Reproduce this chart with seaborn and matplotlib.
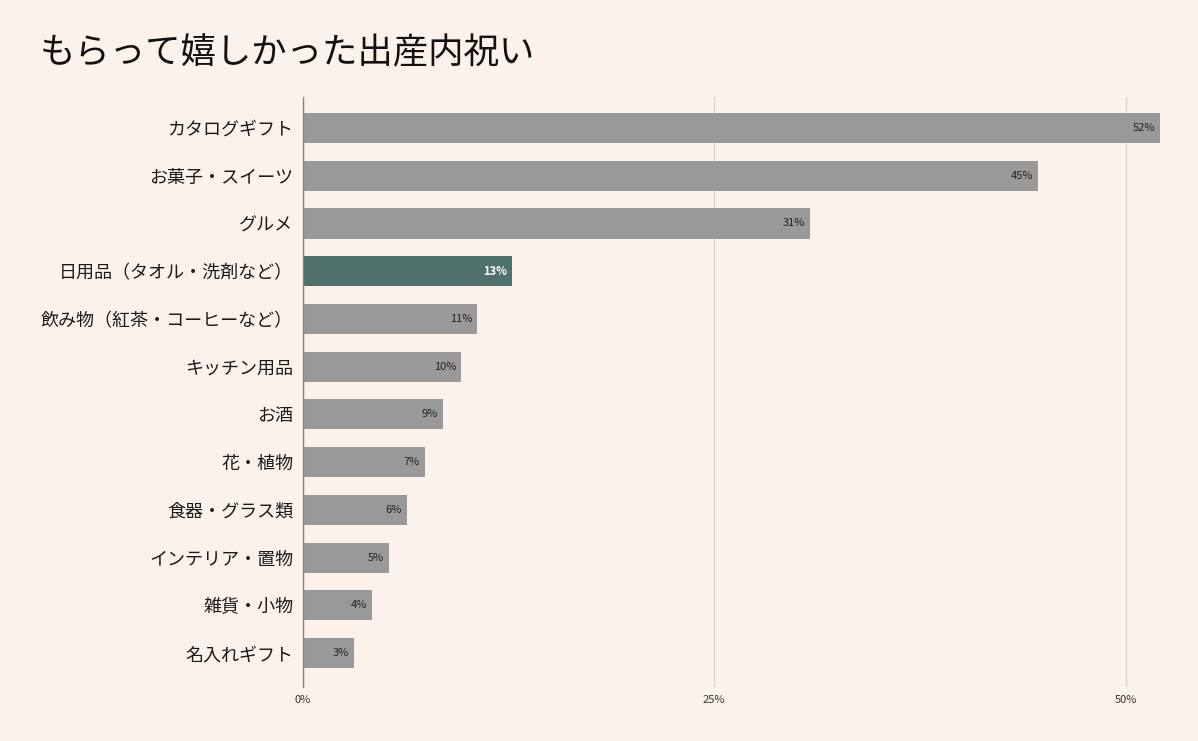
import numpy as np
import pandas as pd
import matplotlib
matplotlib.use('Agg')
import matplotlib.pyplot as plt
import seaborn as sns

# data
categories = ['カタログギフト', 'お菓子・スイーツ', 'グルメ', '日用品（タオル・洗剤など）',
              '飲み物（紅茶・コーヒーなど）', 'キッチン用品', 'お酒', '花・植物',
              '食器・グラス類', 'インテリア・置物', '雑貨・小物', '名入れギフト']
values = [52.1, 44.7, 30.8, 12.7, 10.6, 9.6, 8.5, 7.4, 6.3, 5.2, 4.2, 3.1]
value_labels = ['52%', '45%', '31%', '13%', '11%', '10%', '9%', '7%', '6%', '5%', '4%', '3%']
highlight = '日用品（タオル・洗剤など）'
x_ticks = [0, 25, 50]
x_ticklabels = ['0%', '25%', '50%']

bg = '#fbf2ec'
grey = '#999999'
green = '#4e716c'

sns.set_theme(style='white')
plt.rcParams['font.family'] = ['Noto Sans CJK JP', 'DejaVu Sans']

df = pd.DataFrame({'cat': categories, 'val': values})
palette = {c: (green if c == highlight else grey) for c in categories}

fig = plt.figure(figsize=(11.98, 7.41), dpi=100, facecolor=bg)
ax = fig.add_axes([0.2529, 0.0729, 0.7196, 0.7962])
ax.set_facecolor(bg)

sns.barplot(data=df, x='val', y='cat', hue='cat', palette=palette, legend=False,
            width=0.63, saturation=1, linewidth=0, ax=ax, zorder=3)

for i, cont in enumerate(ax.containers):
    txt = ax.bar_label(cont, labels=[value_labels[i]], padding=-3.5, fontsize=8,
                       color='white' if categories[i] == highlight else '#222222')
    for t in txt:
        t.set_ha('right')
        if categories[i] == highlight:
            t.set_fontweight('bold')

ax.set_xlim(0, 52.4)
ax.set_ylim(11.71, -0.65)
ax.set_xticks(x_ticks)
ax.set_xticklabels(x_ticklabels, fontsize=8, color='#333333')
ax.tick_params(axis='x', length=0, pad=6)
ax.tick_params(axis='y', length=0, pad=7, labelsize=13, labelcolor='#1a1a1a')
ax.set_xlabel('')
ax.set_ylabel('')
ax.grid(axis='x', color='#d9d2cd', linewidth=1, zorder=0)
for s in ['top', 'right', 'bottom']:
    ax.spines[s].set_visible(False)
ax.spines['left'].set_color('#8a8480')
ax.spines['left'].set_linewidth(1)
ax.spines['left'].set_zorder(4)

fig.text(0.033, 0.928, 'もらって嬉しかった出産内祝い', fontsize=25.5, color='#111111',
         ha='left', va='center')

fig.savefig('out.png', dpi=100, facecolor=bg)
